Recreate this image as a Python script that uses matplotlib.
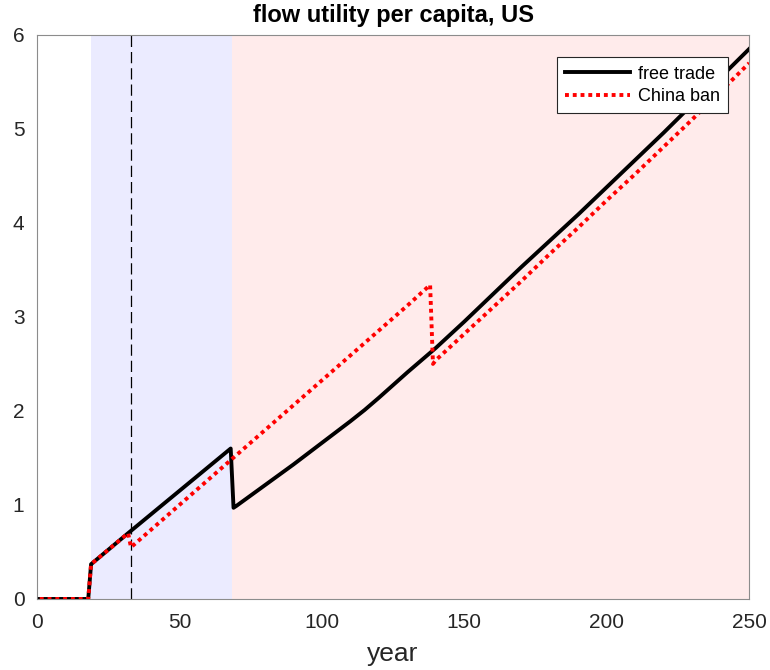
import matplotlib
matplotlib.use("Agg")
import matplotlib.pyplot as plt

plt.rcParams['font.family'] = ['Liberation Sans', 'DejaVu Sans']

# Free trade path: zero, jump at 19, linear growth, drop at 69, convex growth
free_years = [1, 18, 19, 32, 40, 50, 60, 68, 69, 70, 75, 80, 85, 90, 95, 100, 105,
              110, 115, 120, 125, 130, 135, 140, 150, 160, 170, 180, 190, 200,
              210, 220, 230, 240, 250]
free_util = [0.0, 0.0, 0.37, 0.70, 0.90, 1.15, 1.40, 1.60, 0.97, 0.99, 1.10, 1.21,
             1.32, 1.43, 1.545, 1.66, 1.775, 1.89, 2.01, 2.14, 2.275, 2.41, 2.54,
             2.67, 2.95, 3.24, 3.53, 3.81, 4.09, 4.38, 4.67, 4.96, 5.26, 5.55, 5.85]

# China ban path: follows free trade until 32, drop at 33, drop again at 139
ban_years = [1, 18, 19, 32, 33, 50, 70, 90, 110, 130, 138, 139, 140, 150, 160,
             170, 180, 190, 200, 210, 220, 230, 240, 250]
ban_util = [0.0, 0.0, 0.37, 0.70, 0.55, 1.00, 1.53, 2.06, 2.59, 3.12, 3.34, 2.50,
            2.54, 2.82, 3.10, 3.38, 3.67, 3.95, 4.24, 4.52, 4.81, 5.10, 5.40, 5.70]

# Phase shading and marker
phase1 = (19, 68.5)
phase2 = (68.5, 250)
marker_year = 33

fig = plt.figure(figsize=(7.7, 6.7), dpi=100)
ax = fig.add_axes([0.048, 0.106, 0.925, 0.842])

ax.axvspan(*phase1, color=(0.922, 0.922, 1.0), lw=0, zorder=0)
ax.axvspan(*phase2, color=(1.0, 0.922, 0.922), lw=0, zorder=0)
ax.axvline(marker_year, color='black', lw=0.9, ls=(0, (9, 4)), zorder=1)

ax.plot(free_years, free_util, color='black', lw=2.8, label='free trade', zorder=3)
ax.plot(ban_years, ban_util, color='red', lw=2.8, ls=(0, (1, 1)), label='China ban', zorder=4)

ax.set_xlim(0, 250)
ax.set_ylim(0, 6)
ax.set_xticks([0, 50, 100, 150, 200, 250])
ax.set_yticks([0, 1, 2, 3, 4, 5, 6])
ax.tick_params(direction='in', length=0, labelsize=15, colors='#262626')
ax.tick_params(axis='x', pad=10)
ax.tick_params(axis='y', pad=9)
for s in ax.spines.values():
    s.set_color('#8c8c8c')
    s.set_linewidth(0.8)

ax.set_title('flow utility per capita, US', fontsize=17, fontweight='bold', pad=9)
ax.set_xlabel('year', fontsize=19, color='#262626', labelpad=7)

leg = ax.legend(loc='upper right', bbox_to_anchor=(0.97, 0.96), fontsize=13,
                frameon=True, fancybox=False, edgecolor='#262626',
                handlelength=3.6, borderpad=0.45, labelspacing=0.3,
                handletextpad=0.4, borderaxespad=0)
leg.get_frame().set_linewidth(0.8)
leg.get_frame().set_facecolor('white')
leg.get_frame().set_alpha(1)

fig.savefig('out.png', dpi=100)
